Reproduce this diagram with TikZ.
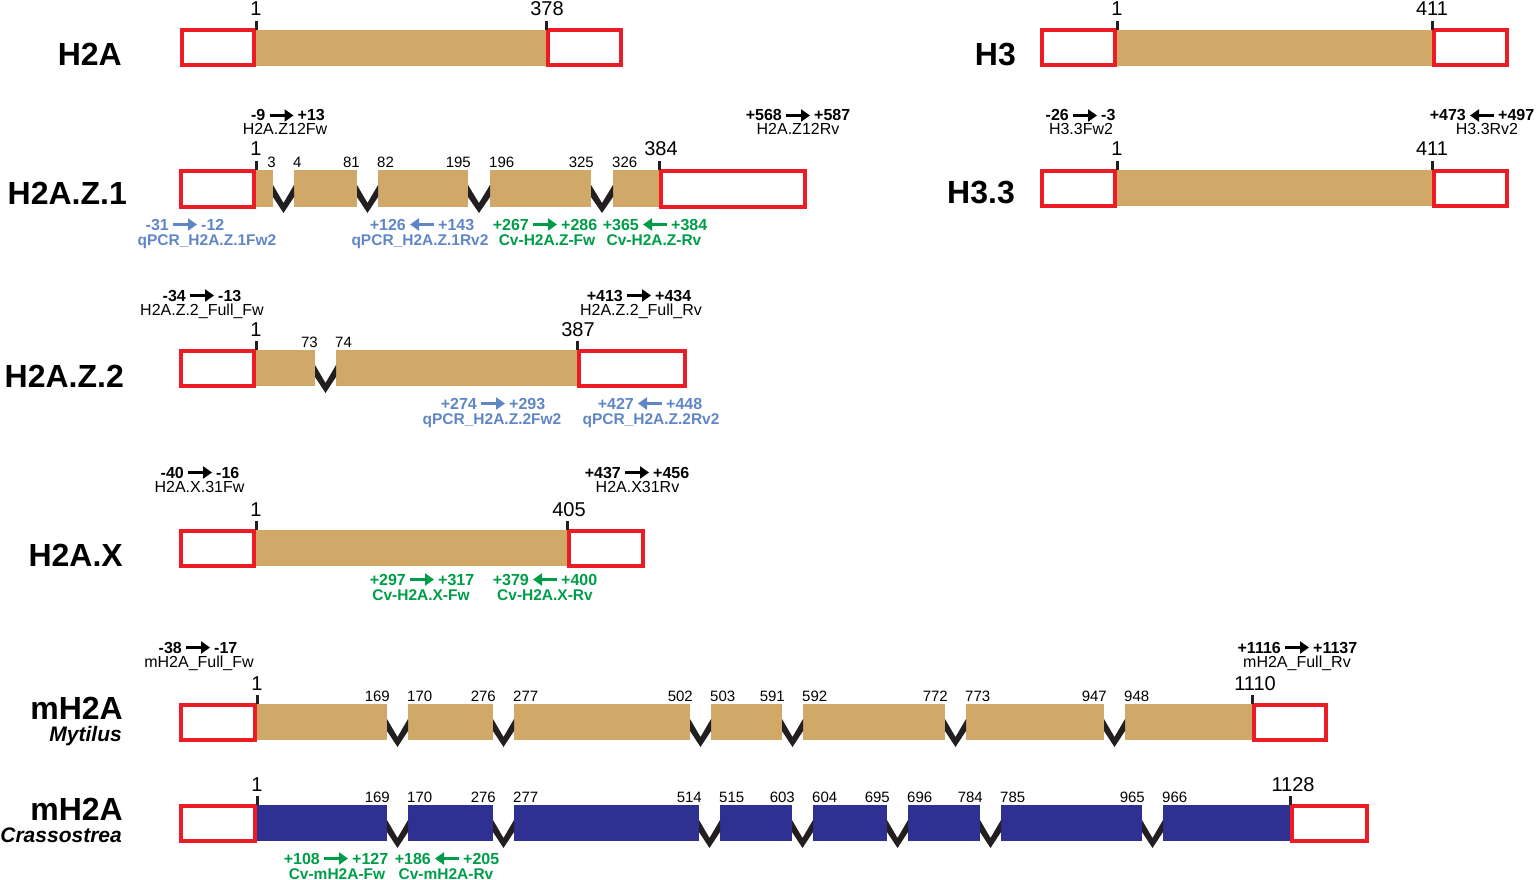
\documentclass[tikz,border=0pt]{standalone}
\usepackage{fontspec}
\setmainfont{Liberation Sans}
\usetikzlibrary{arrows.meta}
\definecolor{exontan}{RGB}{208,168,104}
\definecolor{exonblue}{RGB}{46,49,146}
\definecolor{utrred}{RGB}{237,28,36}
\definecolor{introngray}{RGB}{35,31,32}
\definecolor{qpcrblue}{RGB}{96,134,200}
\definecolor{cvgreen}{RGB}{0,157,72}

\begin{document}
\begin{tikzpicture}[x=1pt, y=-1pt,
    exon/.style={fill=exontan},
    bexon/.style={fill=exonblue},
    utr/.style={draw=utrred, line width=4pt},
    intron/.style={fill=introngray},
    tick/.style={draw=introngray, line width=3pt},
    bignum/.style={font=\fontsize{20}{20}\selectfont, inner sep=0pt, anchor=base},
    endnum/.style={font=\fontsize{15}{15}\selectfont, inner sep=0pt, anchor=base east, xshift=3pt},
    startnum/.style={font=\fontsize{15}{15}\selectfont, inner sep=0pt, anchor=base west, xshift=-1pt},
    gname/.style={font=\fontsize{32}{32}\selectfont\bfseries, inner sep=0pt, text depth=0pt, anchor=base east},
    species/.style={font=\fontsize{21}{21}\selectfont\bfseries\itshape, inner sep=0pt, text height=15pt, anchor=base east},
    pnum/.style={font=\fontsize{16}{16}\selectfont\bfseries, inner xsep=4pt, inner ysep=0pt, text height=11pt, text depth=0pt},
    pname/.style={font=\fontsize{16}{16}\selectfont, inner sep=0pt, anchor=base},
    cname/.style={font=\fontsize{15.5}{15.5}\selectfont\bfseries, inner sep=0pt, anchor=base},
    parrow/.style={line width=3.5pt},
    fwd/.style={-{Triangle[length=9pt,width=12pt]}},
    rev/.style={{Triangle[length=9pt,width=12pt]}-}]
  \useasboundingbox (0,0) rectangle (1536,880);

  % H2A
  \draw[utr] (182,30.5) rectangle (254,65.5);
  \fill[exon] (256,30) rectangle (546,66);
  \draw[utr] (548,30.5) rectangle (621,65.5);
  \draw[tick] (256,21) -- (256,30);
  \draw[tick] (546,21) -- (546,30);
  \node[bignum] (a1) at (256,16) {1};
  \node[bignum] (a378) at (547,16) {378};
  \node[gname] (nH2A) at (122,66) {H2A};

  % H3
  \draw[utr] (1042,30.5) rectangle (1115,65.5);
  \fill[exon] (1117,30) rectangle (1432,66);
  \draw[utr] (1434,30.5) rectangle (1507,65.5);
  \draw[tick] (1117,21) -- (1117,30);
  \draw[tick] (1432,21) -- (1432,30);
  \node[bignum] (b1) at (1117,16) {1};
  \node[bignum] (b411) at (1432,16) {411};
  \node[gname] (nH3) at (1016,66) {H3};

  % H2A.Z.1
  \draw[utr] (181,170.5) rectangle (254,206.5);
  \foreach \a/\b in {256/273, 294/357, 378/468, 490/591, 613/659}
    \fill[exon] (\a,170) rectangle (\b,207);
  \foreach \a/\b in {273/294, 357/378, 468/490, 591/613}
    \fill[intron] (\a,185) -- ({(\a+\b)/2},203) -- (\b,185) -- (\b,197) -- ({(\a+\b)/2},213) -- (\a,197) -- cycle;
  \draw[utr] (661,170.5) rectangle (805,206.5);
  \draw[tick] (256,161) -- (256,170);
  \draw[tick] (659,161) -- (659,170);
  \node[bignum] (c1) at (256,156) {1};
  \node[bignum] (c384) at (661,156) {384};
  \foreach \x/\t [count=\k] in {273/3, 357/81, 468/195, 591/325}
    \node[endnum] (ce\k) at (\x,167) {\t};
  \foreach \x/\t [count=\k] in {294/4, 378/82, 490/196, 613/326}
    \node[startnum] (cs\k) at (\x,167) {\t};
  \node[gname] (nH2AZ1) at (127,204) {H2A.Z.1};

  % H3.3
  \draw[utr] (1042,170.5) rectangle (1115,205.5);
  \fill[exon] (1117,170) rectangle (1432,206);
  \draw[utr] (1434,170.5) rectangle (1507,205.5);
  \draw[tick] (1117,161) -- (1117,170);
  \draw[tick] (1432,161) -- (1432,170);
  \node[bignum] (d1) at (1117,156) {1};
  \node[bignum] (d411) at (1432,156) {411};
  \node[gname] (nH33) at (1015,203) {H3.3};

  % H2A.Z.2
  \draw[utr] (181,350.5) rectangle (254,385.5);
  \foreach \a/\b in {256/315, 336/577}
    \fill[exon] (\a,350) rectangle (\b,386);
  \foreach \a/\b in {315/336}
    \fill[intron] (\a,365) -- ({(\a+\b)/2},383) -- (\b,365) -- (\b,377) -- ({(\a+\b)/2},393) -- (\a,377) -- cycle;
  \draw[utr] (579,350.5) rectangle (685,385.5);
  \draw[tick] (256,341) -- (256,350);
  \draw[tick] (577,341) -- (577,350);
  \node[bignum] (e1) at (256,336) {1};
  \node[bignum] (e387) at (578,336) {387};
  \node[endnum] (ee1) at (315,347) {73};
  \node[startnum] (es1) at (336,347) {74};
  \node[gname] (nH2AZ2) at (124,387) {H2A.Z.2};

  % H2A.X
  \draw[utr] (181,530.5) rectangle (254,565.5);
  \fill[exon] (256,530) rectangle (567,566);
  \draw[utr] (569,530.5) rectangle (643,565.5);
  \draw[tick] (256,521) -- (256,530);
  \draw[tick] (567,521) -- (567,530);
  \node[bignum] (f1) at (256,516) {1};
  \node[bignum] (f405) at (569,516) {405};
  \node[gname] (nH2AX) at (123,566) {H2A.X};

  % mH2A Mytilus
  \draw[utr] (181,704.5) rectangle (255,739.5);
  \foreach \a/\b in {257/387, 408/493, 514/690, 711/782, 803/945, 966/1104, 1125/1252}
    \fill[exon] (\a,704) rectangle (\b,740);
  \foreach \a/\b in {387/408, 493/514, 690/711, 782/803, 945/966, 1104/1125}
    \fill[intron] (\a,719) -- ({(\a+\b)/2},737) -- (\b,719) -- (\b,731) -- ({(\a+\b)/2},747) -- (\a,731) -- cycle;
  \draw[utr] (1254,704.5) rectangle (1326,739.5);
  \draw[tick] (257,695) -- (257,704);
  \draw[tick] (1252,695) -- (1252,704);
  \node[bignum] (g1) at (257,690) {1};
  \node[bignum] (g1110) at (1255,690) {1110};
  \foreach \x/\t [count=\k] in {387/169, 493/276, 690/502, 782/591, 945/772, 1104/947}
    \node[endnum] (ge\k) at (\x,701) {\t};
  \foreach \x/\t [count=\k] in {408/170, 514/277, 711/503, 803/592, 966/773, 1125/948}
    \node[startnum] (gs\k) at (\x,701) {\t};
  \node[gname] (nmH2Am) at (123,719) {mH2A};
  \node[species] (nMyt) at (122,741) {Mytilus};

  % mH2A Crassostrea
  \draw[utr] (181,805.5) rectangle (255,840.5);
  \foreach \a/\b in {257/387, 408/493, 514/699, 720/792, 813/887, 908/980, 1001/1142, 1163/1290}
    \fill[bexon] (\a,805) rectangle (\b,841);
  \foreach \a/\b in {387/408, 493/514, 699/720, 792/813, 887/908, 980/1001, 1142/1163}
    \fill[intron] (\a,820) -- ({(\a+\b)/2},838) -- (\b,820) -- (\b,832) -- ({(\a+\b)/2},848) -- (\a,832) -- cycle;
  \draw[utr] (1292,805.5) rectangle (1367,840.5);
  \draw[tick] (257,796) -- (257,805);
  \draw[tick] (1290,796) -- (1290,805);
  \node[bignum] (h1) at (257,791) {1};
  \node[bignum] (h1128) at (1293,791) {1128};
  \foreach \x/\t [count=\k] in {387/169, 493/276, 699/514, 792/603, 887/695, 980/784, 1142/965}
    \node[endnum] (he\k) at (\x,802) {\t};
  \foreach \x/\t [count=\k] in {408/170, 514/277, 720/515, 813/604, 908/696, 1001/785, 1163/966}
    \node[startnum] (hs\k) at (\x,802) {\t};
  \node[gname] (nmH2Ac) at (123,820) {mH2A};
  \node[species] (nCra) at (122,842) {Crassostrea};

  % primers above the bars
  \foreach \x/\y/\a/\b/\dir/\nx/\n [count=\k] in {
      281.5/121/-9/+13/fwd/285/H2A.Z12Fw,
      798/121/+568/+587/fwd/798/H2A.Z12Rv,
      1085/121/-26/-3/fwd/1081/H3.3Fw2,
      1482/121/+473/+497/rev/1487/H3.3Rv2,
      202/301/-34/-13/fwd/202/H2A.Z.2\_Full\_Fw,
      639/301/+413/+434/fwd/641/H2A.Z.2\_Full\_Rv,
      200/478/-40/-16/fwd/199.5/H2A.X.31Fw,
      637/478/+437/+456/fwd/637.5/H2A.X31Rv,
      198/653/-38/-17/fwd/199/mH2A\_Full\_Fw,
      1297/653/+1116/+1137/fwd/1297/mH2A\_Full\_Rv} {
    \node[pnum, anchor=base east] (ta\k) at (\x-12,\y) {\a};
    \node[pnum, anchor=base west] (tb\k) at (\x+12,\y) {\b};
    \draw[parrow, \dir] (ta\k) -- (tb\k);
    \node[pname] (tn\k) at (\nx,\y+14) {\n};
  }

  % primers below the bars
  \foreach \x/\y/\a/\b/\dir/\c/\nx/\n [count=\k] in {
      185/230/-31/-12/fwd/qpcrblue/207/qPCR\_H2A.Z.1Fw2,
      422/230/+126/+143/rev/qpcrblue/420/qPCR\_H2A.Z.1Rv2,
      545/230/+267/+286/fwd/cvgreen/547/Cv-H2A.Z-Fw,
      655/230/+365/+384/rev/cvgreen/654/Cv-H2A.Z-Rv,
      493/409/+274/+293/fwd/qpcrblue/492/qPCR\_H2A.Z.2Fw2,
      650/409/+427/+448/rev/qpcrblue/651/qPCR\_H2A.Z.2Rv2,
      422/585/+297/+317/fwd/cvgreen/421/Cv-H2A.X-Fw,
      545/585/+379/+400/rev/cvgreen/545/Cv-H2A.X-Rv,
      336/864/+108/+127/fwd/cvgreen/337/Cv-mH2A-Fw,
      447/864/+186/+205/rev/cvgreen/446/Cv-mH2A-Rv} {
    \node[pnum, text=\c, anchor=base east] (ua\k) at (\x-12,\y) {\a};
    \node[pnum, text=\c, anchor=base west] (ub\k) at (\x+12,\y) {\b};
    \draw[parrow, \c, \dir] (ua\k) -- (ub\k);
    \node[cname, text=\c] (un\k) at (\nx,\y+15) {\n};
  }
\end{tikzpicture}
\end{document}
